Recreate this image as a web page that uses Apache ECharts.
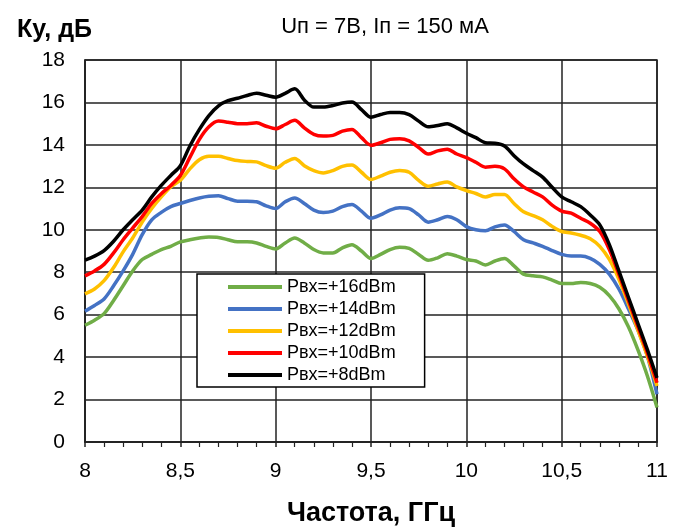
<!DOCTYPE html>
<html>
<head>
<meta charset="utf-8">
<script src="https://cdn.jsdelivr.net/npm/echarts@6/dist/echarts.min.js"></script>
<style>
  html, body { margin: 0; padding: 0; background: #fff; }
  #chart { width: 680px; height: 532px; }
</style>
</head>
<body>
<div id="chart"></div>
<script>
var freq = [8.00, 8.05, 8.10, 8.15, 8.20, 8.25, 8.30, 8.35, 8.40, 8.45, 8.50, 8.55, 8.60, 8.65, 8.70, 8.75, 8.80, 8.85, 8.90, 8.95, 9.00,
	9.05, 9.10, 9.15, 9.20, 9.25, 9.30, 9.35, 9.40, 9.45, 9.50, 9.55, 9.60, 9.65, 9.70, 9.75, 9.80, 9.85, 9.90, 9.95, 10.00,
	10.05, 10.10, 10.15, 10.20, 10.25, 10.30, 10.35, 10.40, 10.45, 10.50, 10.55, 10.60, 10.65, 10.70, 10.75, 10.80, 10.85, 10.90, 10.95, 11.00];

var gain16 = [5.50, 5.74, 6.05, 6.67, 7.36, 8.06, 8.60, 8.84, 9.07, 9.22, 9.43, 9.53, 9.61, 9.66, 9.64, 9.53, 9.43, 9.43, 9.38, 9.22, 9.10,
	9.38, 9.61, 9.38, 9.07, 8.91, 8.91, 9.15, 9.30, 9.00, 8.65, 8.84, 9.07, 9.18, 9.12, 8.84, 8.56, 8.68, 8.87, 8.76, 8.60,
	8.53, 8.34, 8.53, 8.65, 8.30, 7.91, 7.83, 7.78, 7.63, 7.47, 7.47, 7.52, 7.47, 7.29, 6.90, 6.28, 5.43, 4.34, 3.10, 1.63];
var gain14 = [6.16, 6.43, 6.74, 7.36, 8.06, 8.84, 9.77, 10.47, 10.82, 11.09, 11.24, 11.38, 11.50, 11.58, 11.60, 11.47, 11.35, 11.35, 11.32, 11.13, 11.00,
	11.32, 11.50, 11.24, 10.93, 10.82, 10.88, 11.09, 11.19, 10.88, 10.54, 10.70, 10.93, 11.04, 11.00, 10.70, 10.36, 10.47, 10.62, 10.47, 10.15,
	10.00, 9.95, 10.14, 10.23, 9.92, 9.53, 9.38, 9.22, 9.02, 8.84, 8.76, 8.76, 8.65, 8.37, 7.91, 7.21, 6.28, 5.27, 4.03, 2.25];
var gain12 = [6.98, 7.21, 7.60, 8.22, 8.96, 9.61, 10.36, 11.00, 11.55, 12.02, 12.33, 12.87, 13.30, 13.46, 13.46, 13.36, 13.26, 13.22, 13.20, 13.02, 12.90,
	13.18, 13.36, 13.02, 12.79, 12.68, 12.79, 12.99, 13.05, 12.71, 12.37, 12.53, 12.71, 12.79, 12.71, 12.33, 12.05, 12.16, 12.25, 12.02, 11.85,
	11.71, 11.55, 11.66, 11.66, 11.24, 10.85, 10.67, 10.47, 10.16, 9.92, 9.85, 9.74, 9.58, 9.22, 8.60, 7.67, 6.51, 5.27, 4.03, 2.64];
var gain10 = [7.83, 8.06, 8.37, 8.91, 9.53, 10.08, 10.62, 11.24, 11.70, 12.09, 12.56, 13.41, 14.26, 14.85, 15.12, 15.07, 15.00, 15.00, 15.04, 14.88, 14.76,
	14.96, 15.16, 14.80, 14.50, 14.42, 14.45, 14.65, 14.73, 14.34, 13.98, 14.10, 14.26, 14.29, 14.19, 13.88, 13.57, 13.72, 13.80, 13.57, 13.40,
	13.18, 12.95, 12.99, 12.87, 12.40, 12.02, 11.78, 11.55, 11.16, 10.88, 10.78, 10.54, 10.31, 9.92, 9.07, 7.91, 6.67, 5.43, 4.19, 2.79];
var gain8 = [8.57, 8.76, 9.02, 9.46, 10.00, 10.47, 10.93, 11.55, 12.09, 12.56, 13.02, 13.95, 14.73, 15.38, 15.84, 16.08, 16.20, 16.33, 16.43, 16.34, 16.25,
	16.43, 16.64, 16.12, 15.78, 15.78, 15.85, 15.97, 16.02, 15.66, 15.30, 15.43, 15.53, 15.53, 15.43, 15.12, 14.85, 14.91, 15.00, 14.80, 14.55,
	14.34, 14.10, 14.08, 13.95, 13.49, 13.10, 12.79, 12.48, 12.00, 11.55, 11.32, 11.09, 10.70, 10.23, 9.30, 8.06, 6.82, 5.58, 4.34, 3.02];

var names = ['Рвх=+16dBm', 'Рвх=+14dBm', 'Рвх=+12dBm', 'Рвх=+10dBm', 'Рвх=+8dBm'];
var colors = ['#70AD47', '#4472C4', '#FFC000', '#FF0000', '#000000'];
var gains = [gain16, gain14, gain12, gain10, gain8];

var font = "'Liberation Sans', Arial, sans-serif";

function pairs (ys) {
	return freq.map(function (f, i) { return [f, ys[i]]; });
}

var myChart = echarts.init(document.getElementById('chart'));

var series = names.map(function (n, i) {
	return {
		name: n,
		type: 'line',
		smooth: 0.3,
		symbol: 'none',
		lineStyle: { width: 3.5, color: colors[i] },
		itemStyle: { color: colors[i] },
		data: pairs(gains[i])
	};
});

option = {
	animation: false,
	backgroundColor: '#fff',
	title: [{
		text: 'Uп = 7В, Iп = 150 мА',
		left: 380,
		textAlign: 'center',
		top: 11,
		textStyle: { fontFamily: font, fontSize: 22, fontWeight: 'normal', color: '#000' }
	}, {
		text: 'Ку, дБ',
		left: 12,
		top: 13,
		textStyle: { fontFamily: font, fontSize: 25, fontWeight: 'bold', color: '#000' }
	}],
	legend: {
		orient: 'vertical',
		left: 197,
		top: 274,
		backgroundColor: '#fff',
		borderColor: '#000',
		borderWidth: 1.5,
		borderRadius: 0,
		padding: [4, 29, 3, 31],
		icon: 'rect',
		itemWidth: 54,
		itemHeight: 4,
		itemGap: 4,
		textStyle: { fontFamily: font, fontSize: 18, color: '#000', lineHeight: 18 },
		data: names
	},
	grid: {
		left: 85,
		right: 23,
		top: 60,
		bottom: 85,
		show: true,
		borderColor: '#222',
		borderWidth: 1.5
	},
	xAxis: {
		type: 'value',
		min: 8,
		max: 11,
		interval: 0.5,
		name: 'Частота, ГГц',
		nameLocation: 'middle',
		nameGap: 58,
		nameTextStyle: { fontFamily: font, fontSize: 27, fontWeight: 'bold', color: '#000' },
		axisLine: { show: true, lineStyle: { color: '#222', width: 1.5 } },
		axisTick: { show: true, inside: false, length: 5, lineStyle: { color: '#222', width: 1.5 } },
		minorTick: { show: true, splitNumber: 5, length: 5, lineStyle: { color: '#222', width: 1.2 } },
		splitLine: { show: true, lineStyle: { color: '#222', width: 1.5 } },
		axisLabel: {
			margin: 19,
			fontFamily: font,
			fontSize: 21,
			color: '#000',
			formatter: function (v) { return String(v).replace('.', ','); }
		}
	},
	yAxis: {
		type: 'value',
		min: 0,
		max: 18,
		interval: 2,
		axisLine: { show: true, lineStyle: { color: '#222', width: 1.5 } },
		axisTick: { show: false },
		splitLine: { show: true, lineStyle: { color: '#222', width: 1.5 } },
		axisLabel: { margin: 20, fontFamily: font, fontSize: 21, color: '#000' }
	},
	series: series
};

myChart.setOption(option);
</script>
</body>
</html>
